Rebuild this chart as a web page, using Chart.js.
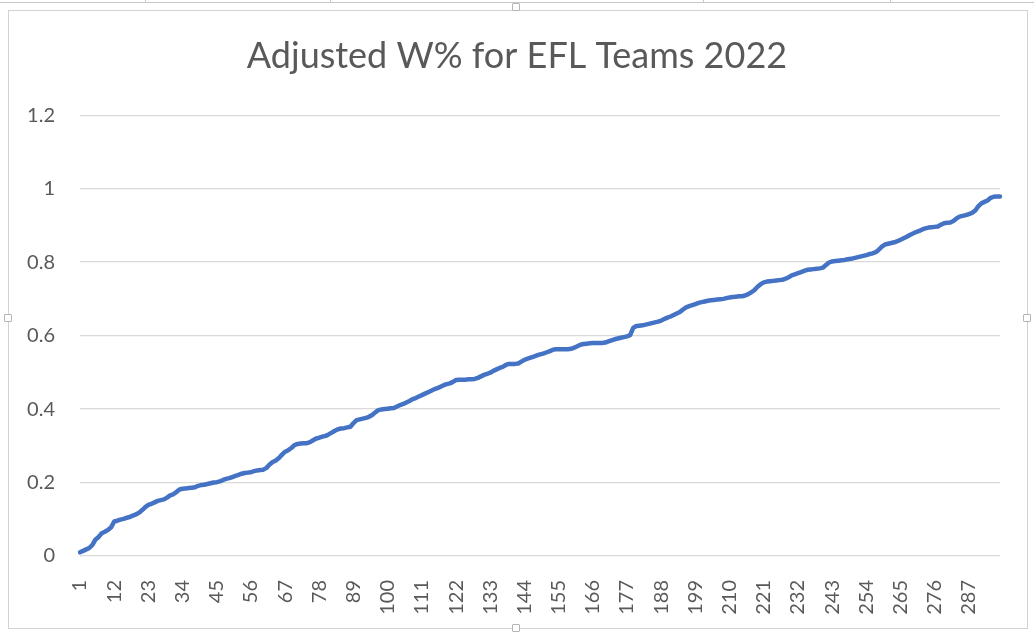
<!DOCTYPE html>
<html>
<head>
<meta charset="utf-8">
<title>Adjusted W% for EFL Teams 2022</title>
<script src="https://cdn.jsdelivr.net/npm/chart.js@4.4.1/dist/chart.umd.min.js"></script>
<style>
  body { margin: 0; background: #fff; }
  #wrap { position: relative; width: 1034px; height: 634px; overflow: hidden; }
  #wrap canvas { position: absolute; left: 0; top: 0; }
  .sheet { position: absolute; left: 0; top: 0; width: 1034px; height: 2px; border-bottom: 1px solid #c8c8c8; }
  .sep { position: absolute; top: 0; width: 1px; height: 3px; background: #c8c8c8; }
  .frame { position: absolute; left: 8px; top: 10px; width: 1018px; height: 617px; border: 1px solid #d2d2d2; pointer-events: none; }
  .handle { position: absolute; width: 6px; height: 6px; background: #fff; border: 1px solid #b5b5b5; border-radius: 1px; }
</style>
</head>
<body>
<div id="wrap">
  <canvas id="winChart" width="1034" height="634"></canvas>
  <div class="sheet"></div>
  <div class="sep" style="left:145px"></div>
  <div class="sep" style="left:330px"></div>
  <div class="sep" style="left:703px"></div>
  <div class="sep" style="left:890px"></div>
  <div class="frame"></div>
  <div class="handle" style="left:512px;top:3px"></div>
  <div class="handle" style="left:4px;top:314px"></div>
  <div class="handle" style="left:1023px;top:314px"></div>
  <div class="handle" style="left:512px;top:624px"></div>
</div>
<script>
// Adjusted W% per team, sorted low to high
const adjustedWinPct = [
  0.010, 0.014, 0.018, 0.022, 0.030, 0.045, 0.052, 0.062, 0.066, 0.071,
  0.078, 0.094, 0.096, 0.099, 0.101, 0.104, 0.106, 0.110, 0.113, 0.118,
  0.125, 0.133, 0.139, 0.142, 0.146, 0.150, 0.152, 0.154, 0.159, 0.165,
  0.168, 0.174, 0.181, 0.183, 0.184, 0.185, 0.186, 0.187, 0.191, 0.193,
  0.194, 0.196, 0.198, 0.200, 0.201, 0.203, 0.207, 0.210, 0.212, 0.215,
  0.218, 0.221, 0.224, 0.226, 0.227, 0.228, 0.231, 0.233, 0.234, 0.235,
  0.240, 0.249, 0.256, 0.260, 0.267, 0.276, 0.284, 0.288, 0.294, 0.302,
  0.305, 0.306, 0.307, 0.307, 0.310, 0.315, 0.320, 0.322, 0.325, 0.327,
  0.331, 0.336, 0.341, 0.345, 0.347, 0.348, 0.350, 0.352, 0.362, 0.370,
  0.372, 0.374, 0.376, 0.379, 0.384, 0.391, 0.397, 0.399, 0.400, 0.401,
  0.402, 0.403, 0.407, 0.411, 0.414, 0.418, 0.422, 0.427, 0.430, 0.434,
  0.438, 0.442, 0.446, 0.450, 0.454, 0.457, 0.461, 0.465, 0.468, 0.470,
  0.474, 0.479, 0.480, 0.480, 0.480, 0.481, 0.481, 0.482, 0.485, 0.489,
  0.493, 0.496, 0.499, 0.504, 0.508, 0.512, 0.515, 0.520, 0.523, 0.523,
  0.523, 0.524, 0.529, 0.534, 0.537, 0.540, 0.543, 0.546, 0.549, 0.551,
  0.554, 0.557, 0.561, 0.563, 0.563, 0.563, 0.563, 0.563, 0.564, 0.567,
  0.571, 0.575, 0.577, 0.578, 0.579, 0.580, 0.580, 0.580, 0.580, 0.581,
  0.584, 0.587, 0.590, 0.592, 0.594, 0.596, 0.598, 0.601, 0.621, 0.626,
  0.627, 0.628, 0.630, 0.632, 0.634, 0.636, 0.638, 0.641, 0.645, 0.649,
  0.652, 0.656, 0.660, 0.664, 0.671, 0.677, 0.680, 0.683, 0.686, 0.689,
  0.691, 0.693, 0.695, 0.696, 0.697, 0.698, 0.699, 0.700, 0.702, 0.704,
  0.705, 0.706, 0.707, 0.707, 0.709, 0.713, 0.718, 0.724, 0.733, 0.740,
  0.745, 0.747, 0.748, 0.749, 0.750, 0.751, 0.752, 0.755, 0.759, 0.764,
  0.767, 0.770, 0.773, 0.776, 0.779, 0.780, 0.781, 0.782, 0.783, 0.785,
  0.792, 0.799, 0.802, 0.803, 0.804, 0.805, 0.806, 0.808, 0.809, 0.811,
  0.813, 0.815, 0.817, 0.819, 0.822, 0.824, 0.827, 0.834, 0.842, 0.848,
  0.850, 0.852, 0.854, 0.857, 0.861, 0.865, 0.869, 0.874, 0.878, 0.882,
  0.885, 0.889, 0.892, 0.894, 0.895, 0.896, 0.897, 0.902, 0.906, 0.907,
  0.908, 0.912, 0.919, 0.924, 0.926, 0.928, 0.931, 0.934, 0.940, 0.952,
  0.960, 0.964, 0.968, 0.975, 0.978, 0.979, 0.979
];

// Team rank numbers on the x axis: 1, 2, 3 ...
const teamRanks = adjustedWinPct.map((v, i) => String(i + 1));

// Axis ticks
const xLabelEvery = 11;
const yTicks = [0, 0.2, 0.4, 0.6, 0.8, 1, 1.2];

const textGray = '#595959';
Chart.defaults.font.family = 'Lato, "Open Sans", sans-serif';

// Chart config
const winConfig = {
  type: 'line',
  data: {
    labels: teamRanks,
    datasets: [{
      label: 'Adjusted W%',
      data: adjustedWinPct,
      borderColor: '#4472C4',
      borderWidth: 4.5,
      borderCapStyle: 'round',
      borderJoinStyle: 'round',
      pointRadius: 0,
      tension: 0,
      fill: false
    }]
  },
  options: {
    responsive: false,
    animation: false,
    layout: { padding: 0 },
    plugins: {
      legend: { display: false },
      tooltip: { enabled: false },
      title: {
        display: true,
        text: 'Adjusted W% for EFL Teams 2022',
        color: textGray,
        font: { size: 36, weight: 'normal' },
        padding: { top: 35, bottom: 37 }
      }
    },
    scales: {
      x: {
        grid: { display: false },
        border: { display: false },
        ticks: {
          autoSkip: false,
          minRotation: 90,
          maxRotation: 90,
          padding: 16,
          color: textGray,
          font: { size: 20 },
          callback: function (value, index) {
            return index % xLabelEvery === 0 ? this.getLabelForValue(value) : null;
          }
        },
        afterFit: (scale) => { scale.height = 78; }
      },
      y: {
        min: yTicks[0],
        max: yTicks[yTicks.length - 1],
        border: { display: false },
        grid: { color: '#d9d9d9', lineWidth: 1.3, drawTicks: false },
        ticks: {
          stepSize: yTicks[1] - yTicks[0],
          padding: 25,
          color: textGray,
          font: { size: 20 },
          // Excel style: 1 instead of 1.0
          callback: (value) => String(Math.round(value * 10) / 10)
        },
        afterFit: (scale) => { scale.width = 80; }
      },
      // empty right margin so the title centres on the whole frame
      yRight: {
        position: 'right',
        min: 0,
        max: 1.2,
        grid: { display: false },
        border: { display: false },
        ticks: { display: false },
        afterFit: (scale) => { scale.width = 34; }
      }
    }
  }
};

// Render
const winChart = new Chart(document.getElementById('winChart'), winConfig);
</script>
</body>
</html>
